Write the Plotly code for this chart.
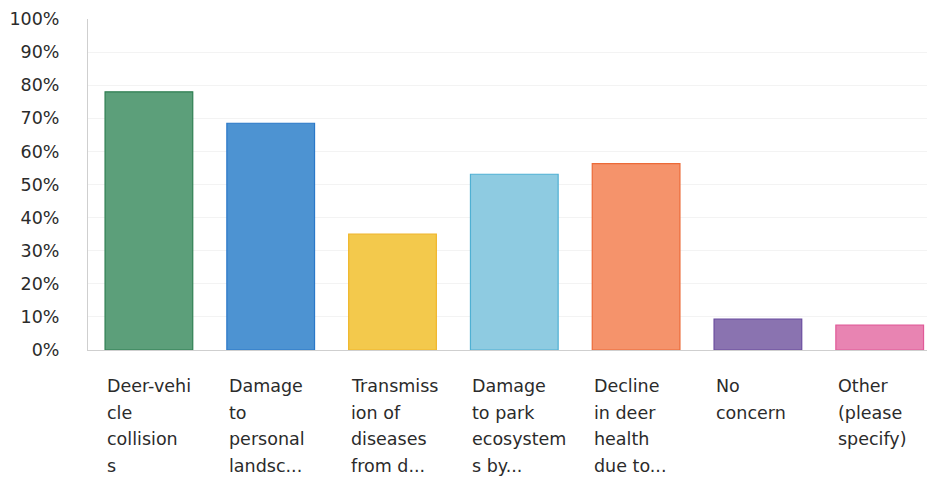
import plotly.graph_objects as go

categories = ["Deer-vehicle collisions", "Damage to personal landsc...", "Transmission of diseases from d...",
              "Damage to park ecosystems by...", "Decline in deer health due to...", "No concern", "Other (please specify)"]
label_lines = [
    ["Deer-vehi", "cle", "collision", "s"],
    ["Damage", "to", "personal", "landsc..."],
    ["Transmiss", "ion of", "diseases", "from d..."],
    ["Damage", "to park", "ecosystem", "s by..."],
    ["Decline", "in deer", "health", "due to..."],
    ["No", "concern"],
    ["Other", "(please", "specify)"],
]
values = [78.0, 68.5, 35.0, 53.1, 56.3, 9.3, 7.5]
fill_colors = ["#5c9f7a", "#4d93d2", "#f3c94c", "#8ecbe1", "#f5936b", "#8a73b0", "#e884b2"]
line_colors = ["#2f7f52", "#2a78c8", "#f0b62a", "#4fb0d3", "#ec6a38", "#6a4c9e", "#e05a98"]
y_ticks = [0, 10, 20, 30, 40, 50, 60, 70, 80, 90, 100]
y_tick_text = [f"{v}%" for v in y_ticks]

x = list(range(len(categories)))
fig = go.Figure(go.Bar(
    x=x, y=values, width=0.72,
    marker=dict(color=fill_colors, line=dict(color=line_colors, width=1.2)),
    hovertext=categories,
))

annotations = []
for i, lines in enumerate(label_lines):
    for j, t in enumerate(lines):
        annotations.append(dict(
            x=i - 0.36, y=0, xref="x", yref="y", text=t, showarrow=False,
            xanchor="left", yanchor="top", align="left", xshift=0,
            yshift=-24 - j * 26.5,
            font=dict(family="DejaVu Sans", size=17.5, color="#2b2b2b"),
        ))

fig.update_layout(
    width=927, height=475,
    margin=dict(l=80, r=0, t=11, b=133, autoexpand=False),
    paper_bgcolor="white", plot_bgcolor="white",
    showlegend=False, bargap=0.28,
    annotations=annotations,
    font=dict(family="DejaVu Sans", color="#2b2b2b"),
)
fig.update_xaxes(range=[-0.5, 6.454], showticklabels=False, showgrid=False,
                 showline=True, linecolor="#cfcfcf", linewidth=1, zeroline=False)
fig.update_yaxes(range=[0, 100], tickvals=y_ticks, ticktext=y_tick_text,
                 tickfont=dict(family="DejaVu Sans", size=17.5, color="#2b2b2b"),
                 showgrid=True, gridcolor="#f3f3f3", gridwidth=1,
                 showline=True, linecolor="#cfcfcf", linewidth=1, zeroline=False,
                 ticks="", ticklabelstandoff=24, automargin=False)
fig.write_html("out.html")
